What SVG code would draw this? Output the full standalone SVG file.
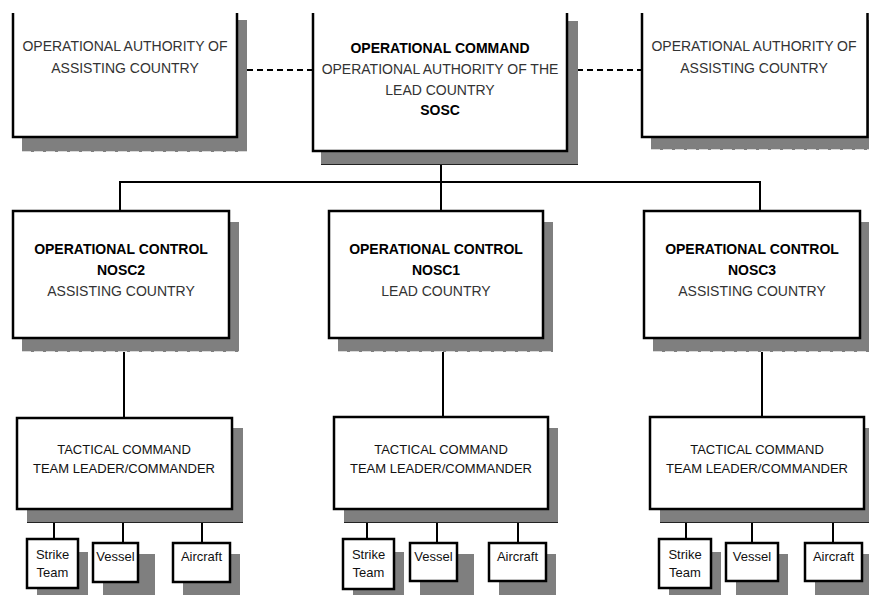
<svg xmlns="http://www.w3.org/2000/svg" width="869" height="595" viewBox="0 0 869 595">
<style>
.box{fill:#fff;stroke:#000;stroke-width:2.5}
.sh{fill:#7f7f7f}
.shl{fill:none;stroke:#d9d9d9;stroke-width:1;stroke-dasharray:9 3}
.t{font-family:"Liberation Sans",Arial,sans-serif;font-size:14px;fill:#333;text-anchor:middle}
.b{font-weight:bold;fill:#000}
.s{font-size:13px;fill:#111}
.ln{stroke:#000;stroke-width:2;fill:none}
.dash{stroke:#000;stroke-width:2;stroke-dasharray:6 4;fill:none}
</style>
<rect width="869" height="595" fill="#fff"/>
<g id="connectors">
<line class="dash" x1="237" y1="70" x2="313" y2="70"/>
<line class="dash" x1="567" y1="70" x2="642" y2="70"/>
<line class="ln" x1="441" y1="151" x2="441" y2="182"/>
<line class="ln" x1="119" y1="182" x2="761" y2="182"/>
<line class="ln" x1="120" y1="182" x2="120" y2="211"/>
<line class="ln" x1="441" y1="182" x2="441" y2="211"/>
<line class="ln" x1="760" y1="182" x2="760" y2="211"/>
<line class="ln" x1="124" y1="338" x2="124" y2="418"/>
<line class="ln" x1="443" y1="338" x2="443" y2="417"/>
<line class="ln" x1="762" y1="338" x2="762" y2="417"/>
<line class="ln" x1="54" y1="509" x2="54" y2="539"/>
<line class="ln" x1="123" y1="509" x2="123" y2="543"/>
<line class="ln" x1="202" y1="509" x2="202" y2="543"/>
<line class="ln" x1="367" y1="509" x2="367" y2="539"/>
<line class="ln" x1="437" y1="509" x2="437" y2="543"/>
<line class="ln" x1="518" y1="509" x2="518" y2="543"/>
<line class="ln" x1="686" y1="509" x2="686" y2="539"/>
<line class="ln" x1="752" y1="509" x2="752" y2="543"/>
<line class="ln" x1="833" y1="509" x2="833" y2="543"/>
</g>
<g id="oa-left">
<rect class="sh" x="22" y="20" width="225" height="132"/>
<line class="shl" x1="22" y1="151.5" x2="247" y2="151.5"/>
<rect x="13" y="13" width="224" height="124" fill="#fff"/>
<path class="box" d="M13,13 V137 H237 V13"/>
<text class="t" x="125" y="51">OPERATIONAL AUTHORITY OF</text>
<text class="t" x="125" y="73">ASSISTING COUNTRY</text>
</g>
<g id="op-command">
<rect class="sh" x="321" y="21" width="257" height="144"/>
<line x1="321" y1="164.5" x2="578" y2="164.5" stroke="#222" stroke-width="1"/>
<rect x="313" y="13" width="254" height="138" fill="#fff"/>
<path class="box" d="M313,13 V151 H567 V13"/>
<text class="t b" x="440" y="53">OPERATIONAL  COMMAND</text>
<text class="t" x="440" y="74">OPERATIONAL AUTHORITY OF THE</text>
<text class="t" x="440" y="95">LEAD COUNTRY</text>
<text class="t b" x="440" y="115">SOSC</text>
</g>
<g id="oa-right">
<rect class="sh" x="651" y="20" width="218" height="130"/>
<line class="shl" x1="651" y1="149.5" x2="869" y2="149.5"/>
<rect x="642" y="13" width="226" height="124" fill="#fff"/>
<path class="box" d="M642,13 V137 H867.5 V13"/>
<text class="t" x="754" y="51">OPERATIONAL AUTHORITY OF</text>
<text class="t" x="754" y="73">ASSISTING COUNTRY</text>
</g>
<g id="nosc2">
<rect class="sh" x="22" y="222" width="217" height="130"/>
<line class="shl" x1="22" y1="351.5" x2="239" y2="351.5"/>
<rect class="box" x="13" y="211" width="216" height="127"/>
<text class="t b" x="121" y="254">OPERATIONAL CONTROL</text>
<text class="t b" x="121" y="275">NOSC2</text>
<text class="t" x="121" y="296">ASSISTING COUNTRY</text>
</g>
<g id="nosc1">
<rect class="sh" x="338" y="222" width="215" height="130"/>
<line class="shl" x1="338" y1="351.5" x2="553" y2="351.5"/>
<rect class="box" x="329" y="211" width="214" height="127"/>
<text class="t b" x="436" y="254">OPERATIONAL  CONTROL</text>
<text class="t b" x="436" y="275">NOSC1</text>
<text class="t" x="436" y="296">LEAD COUNTRY</text>
</g>
<g id="nosc3">
<rect class="sh" x="653" y="222" width="216" height="130"/>
<line class="shl" x1="653" y1="351.5" x2="869" y2="351.5"/>
<rect class="box" x="644" y="211" width="216" height="127"/>
<text class="t b" x="752" y="254">OPERATIONAL  CONTROL</text>
<text class="t b" x="752" y="275">NOSC3</text>
<text class="t" x="752" y="296">ASSISTING COUNTRY</text>
</g>
<g id="tactical-left">
<rect class="sh" x="27" y="428" width="216" height="95"/>
<line x1="27" y1="522.5" x2="243" y2="522.5" stroke="#222" stroke-width="1"/>
<rect class="box" x="17" y="418" width="215" height="91"/>
<text class="t s" x="124" y="454">TACTICAL COMMAND</text>
<text class="t s" x="124" y="473">TEAM LEADER/COMMANDER</text>
</g>
<g id="tactical-center">
<rect class="sh" x="344" y="428" width="214" height="95"/>
<line x1="344" y1="522.5" x2="558" y2="522.5" stroke="#222" stroke-width="1"/>
<rect class="box" x="334" y="417" width="214" height="92"/>
<text class="t s" x="441" y="454">TACTICAL COMMAND</text>
<text class="t s" x="441" y="473">TEAM LEADER/COMMANDER</text>
</g>
<g id="tactical-right">
<rect class="sh" x="660" y="428" width="209" height="95"/>
<line x1="660" y1="522.5" x2="869" y2="522.5" stroke="#222" stroke-width="1"/>
<rect class="box" x="650" y="417" width="214" height="92"/>
<text class="t s" x="757" y="454">TACTICAL COMMAND</text>
<text class="t s" x="757" y="473">TEAM LEADER/COMMANDER</text>
</g>
<g id="strike-left">
<rect class="sh" x="37" y="552" width="51" height="43"/>
<rect class="box" x="27" y="539" width="51" height="49"/>
<text class="t s" x="52.5" y="559">Strike</text>
<text class="t s" x="52.5" y="577">Team</text>
</g>
<g id="vessel-left">
<rect class="sh" x="103" y="554" width="52" height="41"/>
<rect class="box" x="93" y="543" width="45" height="39"/>
<text class="t s" x="115.5" y="561">Vessel</text>
</g>
<g id="aircraft-left">
<rect class="sh" x="183" y="554" width="57" height="41"/>
<rect class="box" x="173" y="543" width="57" height="39"/>
<text class="t s" x="201.5" y="561">Aircraft</text>
</g>
<g id="strike-center">
<rect class="sh" x="353" y="552" width="51" height="43"/>
<rect class="box" x="343" y="539" width="51" height="50"/>
<text class="t s" x="368.5" y="559">Strike</text>
<text class="t s" x="368.5" y="577">Team</text>
</g>
<g id="vessel-center">
<rect class="sh" x="420" y="554" width="54" height="41"/>
<rect class="box" x="410" y="543" width="47" height="38"/>
<text class="t s" x="433.5" y="561">Vessel</text>
</g>
<g id="aircraft-center">
<rect class="sh" x="499" y="554" width="57" height="41"/>
<rect class="box" x="489" y="543" width="57" height="38"/>
<text class="t s" x="517.5" y="561">Aircraft</text>
</g>
<g id="strike-right">
<rect class="sh" x="669" y="552" width="52" height="43"/>
<rect class="box" x="659" y="539" width="52" height="49"/>
<text class="t s" x="685" y="559">Strike</text>
<text class="t s" x="685" y="577">Team</text>
</g>
<g id="vessel-right">
<rect class="sh" x="736" y="554" width="52" height="41"/>
<rect class="box" x="726" y="543" width="52" height="38"/>
<text class="t s" x="752" y="561">Vessel</text>
</g>
<g id="aircraft-right">
<rect class="sh" x="815" y="554" width="54" height="41"/>
<rect class="box" x="805" y="543" width="57" height="38"/>
<text class="t s" x="833.5" y="561">Aircraft</text>
</g>
</svg>
